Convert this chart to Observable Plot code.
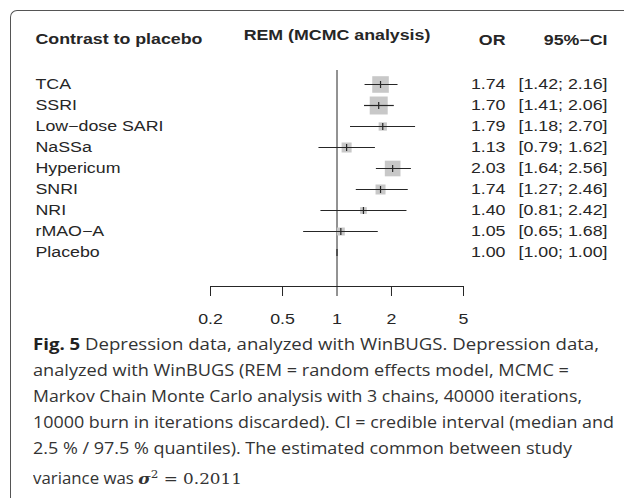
<!DOCTYPE html>
<html>
<head>
<meta charset="utf-8">
<script src="https://cdn.jsdelivr.net/npm/d3@7"></script>
<script src="https://cdn.jsdelivr.net/npm/@observablehq/plot@0.6"></script>
<style>
  html, body { margin: 0; padding: 0; background: #fff; overflow: hidden; }
  #wrap { position: relative; width: 624px; height: 498px; }
  #box {
    position: absolute; left: 10px; top: 10px; width: 800px; height: 700px;
    border-left: 1.3px solid #555; border-top: 1.3px solid #555;
    border-top-left-radius: 7px; box-sizing: border-box;
  }
  #plot { position: absolute; left: 0; top: 0; }
  #caption {
    position: absolute; left: 33px; top: 332px; white-space: nowrap;
    font-family: "Open Sans", sans-serif; font-size: 15.5px; line-height: 25.9px; color: #333;
  }
  #caption .line { display: block; transform-origin: left center; }
  #caption .line span { display: inline-block; }
  #caption b { color: #222; }
  #caption .math { font-family: "DejaVu Serif", serif; }
  #caption .math i { font-weight: bold; }
</style>
</head>
<body>
<div id="wrap">
  <div id="box"></div>
  <div id="plot"></div>
  <div id="caption">
    <div class="line" data-end="599"><span><b>Fig. 5</b> Depression data, analyzed with WinBUGS. Depression data,</span></div>
    <div class="line" data-end="569"><span>analyzed with WinBUGS (REM = random effects model, MCMC =</span></div>
    <div class="line" data-end="582"><span>Markov Chain Monte Carlo analysis with 3 chains, 40000 iterations,</span></div>
    <div class="line" data-end="614"><span>10000 burn in iterations discarded). CI = credible interval (median and</span></div>
    <div class="line" data-end="572"><span>2.5 % / 97.5 % quantiles). The estimated common between study</span></div>
    <div class="line" data-end="242"><span>variance was <span class="math"><i>σ</i><sup style="font-size:11px">2</sup> = 0.2011</span></span></div>
  </div>
</div>
<script>
// treatments, top to bottom
const drugs = ["TCA", "SSRI", "Low\u2212dose SARI", "NaSSa", "Hypericum", "SNRI", "NRI", "rMAO\u2212A", "Placebo"];
const orValues = [1.74, 1.70, 1.79, 1.13, 2.03, 1.74, 1.40, 1.05, 1.00];
const ciLow = [1.42, 1.41, 1.18, 0.79, 1.64, 1.27, 0.81, 0.65, 1.00];
const ciHigh = [2.16, 2.06, 2.70, 1.62, 2.56, 2.46, 2.42, 1.68, 1.00];
// relative weights (square area)
const weights = [22.5, 26.5, 5.6, 8.2, 20.1, 8.2, 3.7, 5.2, 0];
const xTicks = [0.2, 0.5, 1, 2, 5];

const rows = drugs.map((d, i) => ({
  drug: d, or: orValues[i], lo: ciLow[i], hi: ciHigh[i], w: weights[i]
}));

const ink = "#262626";
const fmt = v => v.toFixed(2);

// short vertical stroke used to mark the median
const medianTick = {
  draw(context) {
    context.moveTo(0, -3.5);
    context.lineTo(0, 3.5);
  }
};

const plot = Plot.plot({
  width: 624,
  height: 332,
  marginLeft: 210,
  marginRight: 161,
  marginTop: 70,
  marginBottom: 46,
  style: { fontFamily: "'Liberation Sans', Arial, sans-serif", fontSize: "14px", color: ink, background: "transparent" },
  x: { type: "log", domain: [0.2, 5], axis: null },
  y: { type: "point", domain: drugs, range: [82, 253], padding: 0, axis: null },
  r: { type: "sqrt", domain: [0, d3.max(weights)], range: [0, 10.15] },
  marks: [
    Plot.frame({ anchor: "bottom", stroke: ink }),
    Plot.axisX({ ticks: xTicks, tickFormat: d => String(d), tickSize: 10, tickPadding: 18, fontSize: 14, label: null, stroke: ink }),
    Plot.ruleX([1], { stroke: ink }),
    Plot.dot(rows, { x: "or", y: "drug", r: "w", symbol: "square", fill: "#c8c8c8", stroke: null }),
    Plot.link(rows, { x1: "lo", x2: "hi", y1: "drug", y2: "drug", stroke: ink, strokeWidth: 1.2 }),
    Plot.dot(rows, { x: "or", y: "drug", symbol: medianTick, r: 3, fill: "none", stroke: ink, strokeWidth: 1.2 }),
    // left column
    Plot.text(rows, { y: "drug", text: "drug", frameAnchor: "left", dx: -175, textAnchor: "start", fill: ink }),
    // OR and CI columns
    Plot.text(rows, { y: "drug", text: d => fmt(d.or), frameAnchor: "right", dx: 42, textAnchor: "end", fill: ink }),
    Plot.text(rows, { y: "drug", text: d => `[${fmt(d.lo)}; ${fmt(d.hi)}]`, frameAnchor: "right", dx: 55, textAnchor: "start", fill: ink }),
    // headers
    Plot.text(["Contrast to placebo"], { frameAnchor: "top-left", lineAnchor: "middle", dx: -175, dy: -31, textAnchor: "start", fontWeight: "bold", fill: ink }),
    Plot.text(["REM (MCMC analysis)"], { x: [1], frameAnchor: "top", lineAnchor: "middle", dy: -35, textAnchor: "middle", fontWeight: "bold", fill: ink }),
    Plot.text(["OR"], { frameAnchor: "top-right", lineAnchor: "middle", dx: 42, dy: -30, textAnchor: "end", fontWeight: "bold", fill: ink }),
    Plot.text(["95%\u2212CI"], { frameAnchor: "top-right", lineAnchor: "middle", dx: 144, dy: -30, textAnchor: "end", fontWeight: "bold", fill: ink })
  ]
});

// the original figure was stretched sideways; widen glyphs around their anchor
plot.querySelectorAll("text").forEach(t => {
  const tr = t.getAttribute("transform");
  if (tr) {
    t.setAttribute("transform", tr + " scale(1.27,1)");
  } else {
    const x = +t.getAttribute("x") || 0, y = +t.getAttribute("y") || 0;
    t.removeAttribute("x"); t.removeAttribute("y");
    t.setAttribute("transform", `translate(${x},${y}) scale(1.27,1)`);
  }
});

document.getElementById("plot").appendChild(plot);

// fit each caption line to the width it has in the figure
document.querySelectorAll("#caption .line").forEach(line => {
  const span = line.firstElementChild;
  const w = span.getBoundingClientRect().width;
  const target = +line.dataset.end - 33;
  line.style.transform = `scaleX(${target / w})`;
});
</script>
</body>
</html>
